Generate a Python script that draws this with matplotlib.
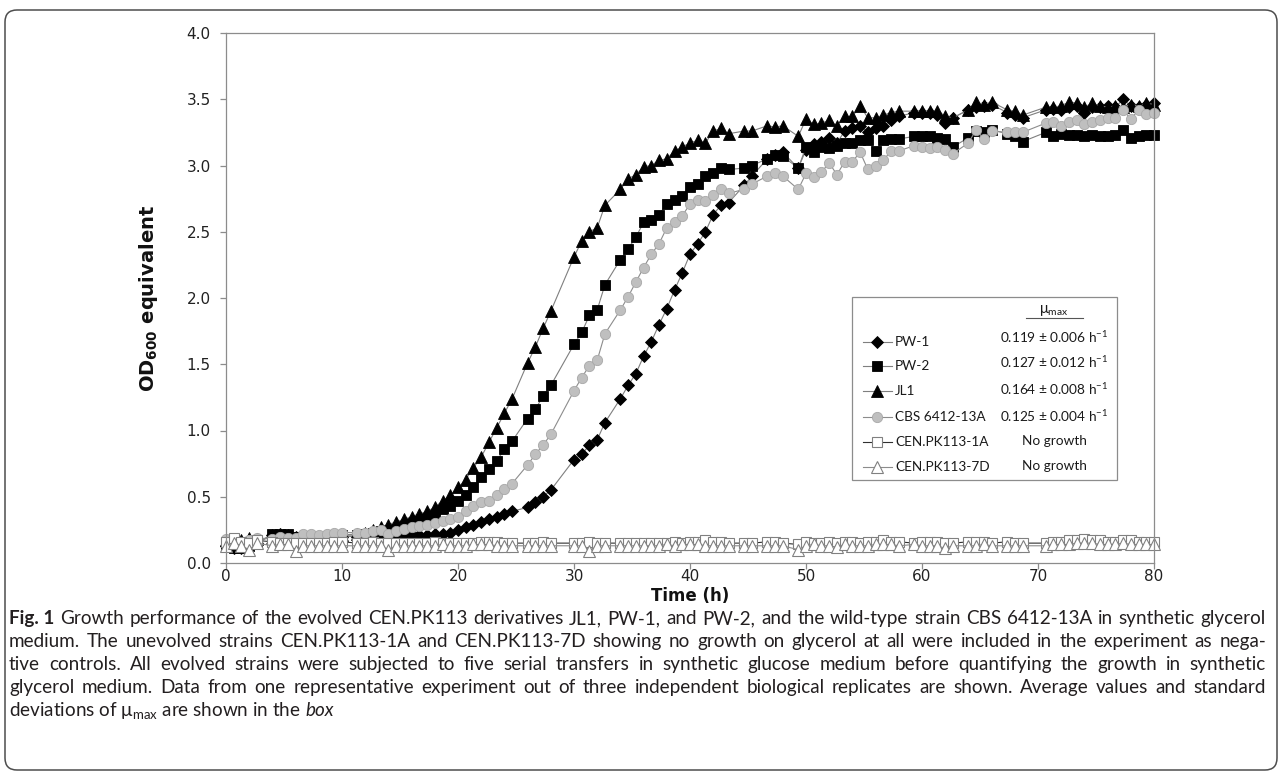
import numpy as np
import matplotlib
matplotlib.use("Agg")
import matplotlib.pyplot as plt
from matplotlib.lines import Line2D
from matplotlib.patches import FancyBboxPatch, Rectangle
from matplotlib.transforms import IdentityTransform

plt.rcParams['mathtext.default'] = 'regular'

W, H = 1282, 776

# reading number (one plate reading every 40 min, some readings missing)
samples = [0, 1, 2, 3, 4, 6, 7, 8, 9, 10, 11, 12, 13, 14, 15,
           17, 18, 19, 20, 21, 22, 23, 24, 25, 26, 27, 28, 29, 30, 31, 32, 33, 34, 35, 36, 37,
           39, 40, 41, 42,
           45, 46, 47, 48, 49,
           51, 52, 53, 54, 55, 56, 57, 58, 59, 60, 61, 62, 63, 64, 65,
           67, 68,
           70, 71, 72,
           74, 75, 76, 77, 78, 79, 80, 81, 82, 83, 84, 85, 86, 87,
           89, 90, 91, 92, 93, 94,
           96, 97, 98, 99,
           101, 102, 103,
           106, 107, 108, 109, 110, 111, 112, 113, 114, 115, 116, 117, 118, 119, 120]

pw1 = [0.13, 0.11, 0.11, 0.12, 0.15, 0.21, 0.22, 0.21, 0.20, 0.20, 0.20, 0.20, 0.20, 0.20, 0.20,
       0.20, 0.20, 0.20, 0.21, 0.21, 0.21, 0.21, 0.21, 0.21, 0.21, 0.22, 0.22, 0.23, 0.25, 0.27,
       0.29, 0.31, 0.33, 0.35, 0.37, 0.39,
       0.42, 0.46, 0.50, 0.55,
       0.78, 0.82, 0.89, 0.93, 1.06,
       1.24, 1.34, 1.43, 1.56, 1.67, 1.80, 1.92, 2.06, 2.19, 2.33, 2.41, 2.50, 2.63, 2.70, 2.72,
       2.85, 2.92,
       3.05, 3.08, 3.10,
       2.98, 3.12, 3.16, 3.18, 3.21, 3.17, 3.26, 3.28, 3.30, 3.25, 3.28, 3.30, 3.34, 3.37,
       3.40, 3.40, 3.40, 3.38, 3.32, 3.36,
       3.42, 3.44, 3.45, 3.46,
       3.40, 3.38, 3.36,
       3.42, 3.43, 3.42, 3.44, 3.45, 3.40, 3.44, 3.44, 3.45, 3.44, 3.50, 3.45, 3.44, 3.46, 3.47]

pw2 = [0.14, 0.11, 0.11, 0.13, 0.15, 0.22, 0.22, 0.22, 0.20, 0.20, 0.20, 0.20, 0.20, 0.20, 0.21,
       0.21, 0.22, 0.23, 0.24, 0.25, 0.26, 0.28, 0.30, 0.32, 0.34, 0.37, 0.41, 0.43, 0.47, 0.51,
       0.57, 0.65, 0.71, 0.77, 0.86, 0.92,
       1.09, 1.16, 1.26, 1.34,
       1.65, 1.74, 1.87, 1.91, 2.10,
       2.29, 2.37, 2.46, 2.57, 2.59, 2.63, 2.71, 2.74, 2.77, 2.84, 2.86, 2.92, 2.94, 2.98, 2.97,
       2.98, 3.00,
       3.05, 3.08, 3.07,
       2.98, 3.14, 3.10, 3.14, 3.13, 3.15, 3.17, 3.17, 3.19, 3.19, 3.11, 3.19, 3.20, 3.20,
       3.22, 3.22, 3.22, 3.21, 3.20, 3.14,
       3.21, 3.26, 3.25, 3.27,
       3.24, 3.22, 3.18,
       3.25, 3.22, 3.24, 3.23, 3.23, 3.22, 3.23, 3.22, 3.22, 3.23, 3.27, 3.21, 3.22, 3.23, 3.23]

jl1 = [0.17, 0.18, 0.17, 0.19, 0.18, 0.19, 0.20, 0.20, 0.19, 0.20, 0.20, 0.20, 0.20, 0.21, 0.21,
       0.22, 0.23, 0.25, 0.27, 0.29, 0.31, 0.33, 0.35, 0.37, 0.39, 0.42, 0.47, 0.51, 0.57, 0.63,
       0.72, 0.80, 0.91, 1.02, 1.13, 1.24,
       1.51, 1.63, 1.77, 1.90,
       2.31, 2.43, 2.50, 2.53, 2.70,
       2.82, 2.90, 2.93, 2.99, 3.00, 3.04, 3.05, 3.11, 3.14, 3.17, 3.19, 3.17, 3.26, 3.28, 3.24,
       3.26, 3.26,
       3.30, 3.29, 3.30,
       3.22, 3.35, 3.31, 3.32, 3.34, 3.30, 3.37, 3.37, 3.45, 3.36, 3.36, 3.38, 3.40, 3.41,
       3.41, 3.41, 3.41, 3.41, 3.37, 3.36,
       3.42, 3.48, 3.46, 3.48,
       3.42, 3.41, 3.38,
       3.44, 3.44, 3.45, 3.48, 3.47, 3.44, 3.47, 3.45, 3.44, 3.45, 3.44, 3.46, 3.45, 3.47, 3.46]

cbs = [0.18, 0.18, 0.16, 0.17, 0.19, 0.18, 0.20, 0.19, 0.19, 0.22, 0.22, 0.21, 0.22, 0.23, 0.23,
       0.23, 0.23, 0.24, 0.25, 0.22, 0.24, 0.26, 0.27, 0.28, 0.29, 0.30, 0.32, 0.33, 0.35, 0.39,
       0.43, 0.46, 0.47, 0.51, 0.56, 0.60,
       0.74, 0.82, 0.89, 0.97,
       1.30, 1.40, 1.49, 1.53, 1.73,
       1.91, 2.01, 2.12, 2.23, 2.33, 2.41, 2.53, 2.57, 2.62, 2.71, 2.74, 2.73, 2.78, 2.82, 2.79,
       2.82, 2.86,
       2.92, 2.94, 2.92,
       2.82, 2.94, 2.91, 2.95, 3.02, 2.93, 3.03, 3.03, 3.10, 2.97, 3.00, 3.04, 3.11, 3.11,
       3.15, 3.14, 3.13, 3.14, 3.12, 3.09,
       3.17, 3.27, 3.20, 3.26,
       3.25, 3.25, 3.25,
       3.32, 3.33, 3.30, 3.33, 3.34, 3.31, 3.33, 3.34, 3.36, 3.36, 3.42, 3.35, 3.42, 3.39, 3.40]

cen1a = [0.16, 0.19, 0.16, 0.15, 0.17, 0.16, 0.15, 0.15, 0.15, 0.15, 0.15, 0.15, 0.15, 0.16, 0.16,
         0.15, 0.15, 0.16, 0.15, 0.15, 0.15, 0.15, 0.15, 0.15, 0.15, 0.16, 0.15, 0.15, 0.15, 0.15,
         0.15, 0.16, 0.16, 0.16, 0.15, 0.15,
         0.15, 0.15, 0.16, 0.15,
         0.15, 0.15, 0.16, 0.15, 0.15,
         0.15, 0.15, 0.15, 0.15, 0.15, 0.15, 0.15, 0.16, 0.15, 0.16, 0.16, 0.17, 0.16, 0.16, 0.15,
         0.15, 0.15,
         0.16, 0.16, 0.15,
         0.14, 0.16, 0.15, 0.15, 0.16, 0.15, 0.16, 0.16, 0.15, 0.16, 0.16, 0.17, 0.16, 0.16,
         0.15, 0.16, 0.16, 0.16, 0.15, 0.15,
         0.16, 0.16, 0.16, 0.15,
         0.16, 0.15, 0.15,
         0.15, 0.16, 0.16, 0.17, 0.17, 0.18, 0.17, 0.17, 0.16, 0.16, 0.17, 0.17, 0.16, 0.16, 0.16]

cen7d = [0.13, 0.15, 0.13, 0.10, 0.15, 0.13, 0.14, 0.14, 0.09, 0.13, 0.13, 0.13, 0.13, 0.13, 0.13,
         0.13, 0.13, 0.13, 0.13, 0.10, 0.13, 0.13, 0.13, 0.13, 0.13, 0.13, 0.14, 0.13, 0.13, 0.13,
         0.14, 0.14, 0.14, 0.13, 0.13, 0.13,
         0.13, 0.13, 0.13, 0.13,
         0.13, 0.13, 0.09, 0.13, 0.13,
         0.13, 0.13, 0.13, 0.13, 0.13, 0.13, 0.14, 0.13, 0.14, 0.14, 0.14, 0.13, 0.13, 0.13, 0.13,
         0.13, 0.13,
         0.13, 0.13, 0.13,
         0.10, 0.13, 0.14, 0.13, 0.13, 0.12, 0.14, 0.13, 0.13, 0.13, 0.14, 0.14, 0.14, 0.13,
         0.14, 0.13, 0.13, 0.13, 0.11, 0.13,
         0.13, 0.13, 0.14, 0.13,
         0.13, 0.13, 0.13,
         0.13, 0.14, 0.14, 0.14, 0.15, 0.15, 0.15, 0.14, 0.14, 0.14, 0.15, 0.14, 0.14, 0.14, 0.14]

names = ['PW-1', 'PW-2', 'JL1', 'CBS 6412-13A', 'CEN.PK113-1A', 'CEN.PK113-7D']
mu_max = ['0.119 \u00b1 0.006 h$^{-1}$', '0.127 \u00b1 0.012 h$^{-1}$',
          '0.164 \u00b1 0.008 h$^{-1}$', '0.125 \u00b1 0.004 h$^{-1}$',
          'No growth', 'No growth']

x_ticks = [0, 10, 20, 30, 40, 50, 60, 70, 80]
y_ticks = [0.0, 0.5, 1.0, 1.5, 2.0, 2.5, 3.0, 3.5, 4.0]

caption = [
    'Growth performance of the evolved CEN.PK113 derivatives JL1, PW-1, and PW-2, and the wild-type strain CBS 6412-13A in synthetic glycerol',
    'medium. The unevolved strains CEN.PK113-1A and CEN.PK113-7D showing no growth on glycerol at all were included in the experiment as nega-',
    'tive controls. All evolved strains were subjected to five serial transfers in synthetic glucose medium before quantifying the growth in synthetic',
    'glycerol medium. Data from one representative experiment out of three independent biological replicates are shown. Average values and standard',
]

series = [pw1, pw2, jl1, cbs, cen1a, cen7d]
for s in series:
    assert len(s) == len(samples)

time_h = np.array(samples) * 40 / 60

styles = [
    dict(marker='D', ms=6.0, mfc='black', mec='black', mew=0.6, color='#7f7f7f'),
    dict(marker='s', ms=7.2, mfc='black', mec='black', mew=0.6, color='#7f7f7f'),
    dict(marker='^', ms=8.5, mfc='black', mec='black', mew=0.6, color='#7f7f7f'),
    dict(marker='o', ms=7.4, mfc='#bfbfbf', mec='#a8a8a8', mew=0.6, color='#8c8c8c'),
    dict(marker='s', ms=7.2, mfc='white', mec='#808080', mew=0.8, color='#303030'),
    dict(marker='^', ms=8.5, mfc='white', mec='#808080', mew=0.8, color='#8c8c8c'),
]

fig = plt.figure(figsize=(W / 100, H / 100), dpi=100)
ax_l, ax_r, ax_t, ax_b = 226, 1154, 33, 563
ax = fig.add_axes([ax_l / W, 1 - ax_b / H, (ax_r - ax_l) / W, (ax_b - ax_t) / H])

for vals, st in zip(series, styles):
    ax.plot(time_h, vals, lw=0.8, clip_on=False, **st)

ax.set_xlim(0, 80)
ax.set_ylim(0, 4)
ax.set_xticks(x_ticks)
ax.set_yticks(y_ticks)
ax.set_yticklabels([f'{v:.1f}' for v in y_ticks])
for sp in ax.spines.values():
    sp.set_color('#8c8c8c')
    sp.set_linewidth(0.9)
ax.tick_params(direction='out', length=4, width=0.9, color='#8c8c8c',
               labelsize=11, labelcolor='#222222')
ax.tick_params(axis='y', pad=7)
ax.tick_params(axis='x', pad=0.5)

ax.set_xlabel('Time (h)', fontsize=12, fontweight='bold', color='#111111')
ax.xaxis.set_label_coords(0.5, (ax_b - 587) / (ax_b - ax_t))
ax.set_ylabel('OD$_{600}$ equivalent', fontsize=14, fontweight='bold', color='#111111')
ax.yaxis.set_label_coords((160 - ax_l) / (ax_r - ax_l), 0.5)

# legend box with mu_max column
ident = IdentityTransform()
fig.add_artist(Rectangle((852, H - 480), 265, 183, transform=ident, fc='white',
                         ec='#8c8c8c', lw=0.9, zorder=5))
row_y = [342, 366, 391, 417, 442, 467]
val_y = [337, 362, 389, 416, 441, 466]
leg_font = dict(family='Lato', fontsize=9.8, color='#1a1a1a')
for name, mu, ry, vy, st in zip(names, mu_max, row_y, val_y, styles):
    fig.add_artist(Line2D([863, 892], [H - ry, H - ry], transform=ident, lw=0.8,
                          color=st['color'], zorder=6))
    mk = {k: v for k, v in st.items() if k != 'color'}
    fig.add_artist(Line2D([877], [H - ry], transform=ident, lw=0, zorder=7, **mk))
    fig.text(895 / W, 1 - ry / H, name, ha='left', va='center', zorder=8, **leg_font)
    fig.text(1054 / W, 1 - vy / H, mu, ha='center', va='center', zorder=8, **leg_font)
fig.text(1054 / W, 1 - 311 / H, '\u03bc$_{max}$', ha='center', va='center', zorder=8,
         family='Lato', fontsize=10.5, color='#1a1a1a')
fig.add_artist(Line2D([1026, 1083], [H - 318, H - 318], transform=ident, lw=0.8,
                      color='#555555', zorder=8))

# outer rounded frame
fig.add_artist(FancyBboxPatch((5, 6), 1272, 760, boxstyle='round,pad=0,rounding_size=12',
                              transform=ident, fill=False, ec='#4d4d4d', lw=1.1, zorder=10))

# caption, justified like the journal layout
renderer = fig.canvas.get_renderer()
cap_col = '#231f20'
cap_family = 'Lato'


def width_of(s, **kw):
    t = fig.text(0, 0, s, **kw)
    w = t.get_window_extent(renderer).width
    t.remove()
    return w


x_left, x_right = 9, 1266
base = width_of('Fig. 1 ' + caption[0], family=cap_family, fontsize=10)
cap_fs = 10 * 1240 / base
reg = dict(family=cap_family, fontsize=cap_fs, color=cap_col)
bold = dict(family=cap_family, fontsize=cap_fs, color=cap_col, fontweight='bold')
space_w = width_of('a a', **reg) - width_of('aa', **reg)

baselines = [624, 647, 670, 693, 716]
for i, line in enumerate(caption):
    tokens = [(w, reg) for w in line.split(' ')]
    if i == 0:
        tokens = [('Fig. 1', bold)] + tokens
    widths = [width_of(s, **kw) for s, kw in tokens]
    gap = (x_right - x_left - sum(widths)) / (len(tokens) - 1)
    x = x_left
    for (s, kw), w in zip(tokens, widths):
        fig.text(x / W, 1 - baselines[i] / H, s, ha='left', va='baseline', **kw)
        x += w + gap

x = x_left
for s, kw in [('deviations of \u03bc$_{max}$ are shown in the', reg),
              ('box', dict(reg, style='italic'))]:
    fig.text(x / W, 1 - baselines[4] / H, s, ha='left', va='baseline', **kw)
    x += width_of(s, **kw) + space_w

fig.savefig('out.png', dpi=100)
